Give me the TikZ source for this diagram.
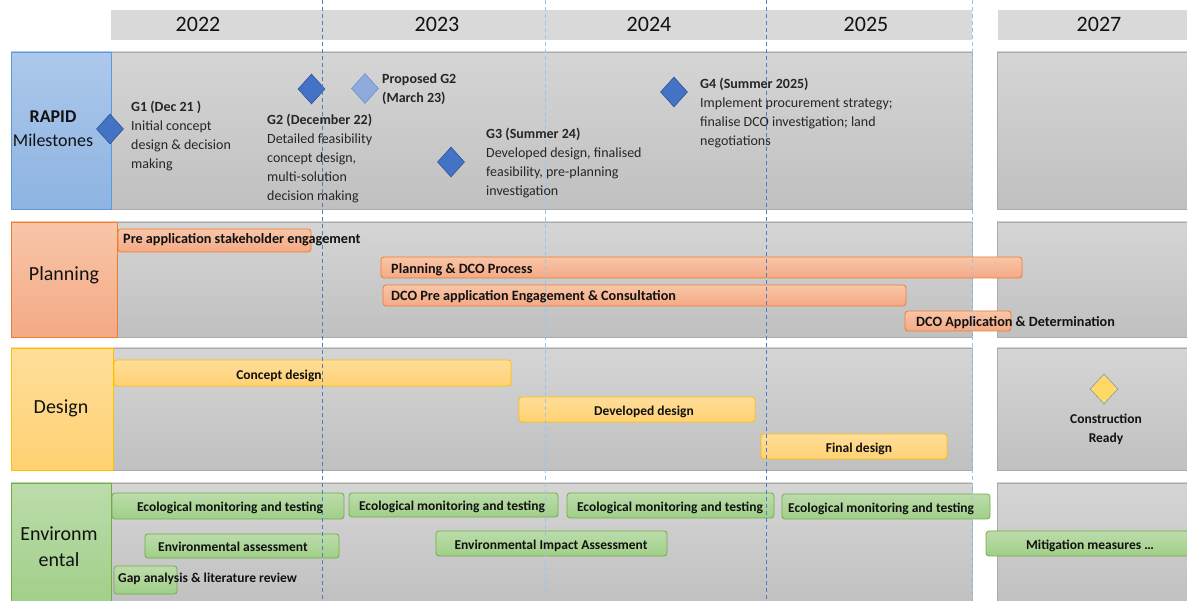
\documentclass[tikz,border=0pt]{standalone}
\usepackage{fontspec}
\setmainfont{Carlito}
\usetikzlibrary{shapes.geometric}
\definecolor{headG}{HTML}{D9D9D9}
\definecolor{panT}{HTML}{D5D5D5}
\definecolor{panB}{HTML}{C0C0C0}
\definecolor{panE}{HTML}{AAAAAA}
\definecolor{txtA}{HTML}{111111}
\definecolor{txtB}{HTML}{262626}
\definecolor{blT}{HTML}{ADC8EB}
\definecolor{blB}{HTML}{8DB4E2}
\definecolor{blE}{HTML}{5B9BD5}
\definecolor{orT}{HTML}{F8C6A8}
\definecolor{orB}{HTML}{F4A985}
\definecolor{orE}{HTML}{ED7D31}
\definecolor{yeT}{HTML}{FFDE9A}
\definecolor{yeB}{HTML}{FFD172}
\definecolor{yeE}{HTML}{FFC000}
\definecolor{grT}{HTML}{BCDCAB}
\definecolor{grB}{HTML}{A0CF88}
\definecolor{grE}{HTML}{70AD47}
\definecolor{msBlue}{HTML}{4472C4}
\definecolor{msEdge}{HTML}{2F5597}
\definecolor{prBlue}{HTML}{8FAADC}
\definecolor{prEdge}{HTML}{6D8FCB}
\definecolor{cdYel}{HTML}{FFD966}
\definecolor{cdEdge}{HTML}{8497B0}
\definecolor{vlDark}{HTML}{4A7CCB}
\definecolor{vlLight}{HTML}{9DC3E6}
\newcommand\tlbox[6]{\node[#1, minimum width={(#5-#3)*1pt}, minimum height={(#6-#4)*1pt}] (#2) at ({(#3+#5)/2},{(#4+#6)/2}) {};}
\begin{document}
\begin{tikzpicture}[x=1pt,y=-1pt,
  boxbase/.style={rectangle, inner sep=0pt, outer sep=0pt},
  headbox/.style={boxbase, fill=headG},
  panel/.style={boxbase, top color=panT, bottom color=panB, draw=panE, line width=0.5pt},
  lblue/.style={boxbase, top color=blT, bottom color=blB, draw=blE, line width=0.8pt},
  lorange/.style={boxbase, top color=orT, bottom color=orB, draw=orE, line width=0.8pt},
  lyellow/.style={boxbase, top color=yeT, bottom color=yeB, draw=yeE, line width=0.8pt},
  lgreen/.style={boxbase, top color=grT, bottom color=grB, draw=grE, line width=0.8pt},
  obar/.style={lorange, rounded corners=3pt},
  ybar/.style={lyellow, rounded corners=3pt},
  gbar/.style={lgreen, rounded corners=3pt},
  msd/.style={diamond, inner sep=0pt, minimum width=27pt, minimum height=30pt, fill=msBlue, draw=msEdge, line width=0.6pt},
  prd/.style={msd, fill=prBlue, draw=prEdge},
  cdd/.style={msd, fill=cdYel, draw=cdEdge, minimum width=28pt},
  bt/.style={font=\fontsize{13.5}{16}\selectfont\bfseries, text=txtA, inner sep=0pt},
  pt/.style={bt, font=\fontsize{14.2}{16}\selectfont\bfseries},
  mt/.style={font=\fontsize{14}{19}\selectfont, align=left, inner sep=0pt, text=txtB},
  yeartxt/.style={font=\fontsize{22}{26}\selectfont, inner sep=0pt, text=txtA},
  rowlab/.style={font=\fontsize{20}{26}\selectfont, align=center, inner sep=0pt, text=txtA},
  vline/.style={dash pattern=on 4pt off 3pt, line width=0.9pt}
]
\useasboundingbox (0,0) rectangle (1187,601);
\clip (0,0) rectangle (1187,601);
% headers
\tlbox{headbox}{h1}{111}{10}{972}{40}
\tlbox{headbox}{h2}{998}{10}{1192}{40}
% panels
\tlbox{panel}{p1a}{111}{52}{972}{209}
\tlbox{panel}{p1b}{997}{52}{1192}{209}
\tlbox{panel}{p2a}{117}{222}{972}{337}
\tlbox{panel}{p2b}{997}{222}{1192}{337}
\tlbox{panel}{p3a}{113}{348}{972}{470}
\tlbox{panel}{p3b}{997}{348}{1192}{470}
\tlbox{panel}{p4a}{111}{483}{972}{606}
\tlbox{panel}{p4b}{997}{483}{1192}{606}
% row labels
\tlbox{lblue}{L1}{11}{52}{111}{209}
\tlbox{lorange}{L2}{11}{222}{117}{337}
\tlbox{lyellow}{L3}{11}{348}{113}{470}
\tlbox{lgreen}{L4}{11}{483}{111}{606}
% planning bars
\tlbox{obar}{pb1}{118}{229}{311}{252}
\tlbox{obar}{pb2}{381}{257}{1022}{278}
\tlbox{obar}{pb3}{383}{285}{906}{306}
\tlbox{obar}{pb4}{905}{311}{1011}{331}
% design bars
\tlbox{ybar}{yb1}{114}{360}{511}{386}
\tlbox{ybar}{yb2}{519}{397}{755}{422}
\tlbox{ybar}{yb3}{761}{434}{947}{459}
% environmental bars
\tlbox{gbar}{gb1}{112}{493}{344}{519}
\tlbox{gbar}{gb2}{349}{493}{558}{517}
\tlbox{gbar}{gb3}{567}{493}{774}{518}
\tlbox{gbar}{gb4}{782}{494}{990}{519}
\tlbox{gbar}{gb5}{145}{534}{339}{558}
\tlbox{gbar}{gb6}{436}{531}{667}{556}
\tlbox{gbar}{gb7}{114}{566}{177}{594}
\tlbox{gbar}{gb8}{986}{531}{1196}{556}
% milestone diamonds
\node[msd] (g1d) at (110,129) {};
\node[msd] (g2d) at (311.5,89) {};
\node[prd] (pg2d) at (365,88.5) {};
\node[msd] (g3d) at (451,162) {};
\node[msd] (g4d) at (674,92) {};
\node[cdd] (crd) at (1104,389) {};
% dashed year lines
\coordinate (v1t) at (322,0);   \coordinate (v1b) at (322,601);
\coordinate (v2t) at (545,0);   \coordinate (v2b) at (545,601);
\coordinate (v3t) at (766,0);   \coordinate (v3b) at (766,601);
\coordinate (v4t) at (972,0);   \coordinate (v4b) at (972,601);
\draw[vline, vlDark] (v1t) -- (v1b);
\draw[vline, vlLight] (v2t) -- (v2b);
\draw[vline, vlDark] (v3t) -- (v3b);
\draw[vline, vlLight] (v4t) -- (v4b);
% years
\node[yeartxt, anchor=base] (y22) at (198,32) {2022};
\node[yeartxt, anchor=base] (y23) at (437,32) {2023};
\node[yeartxt, anchor=base] (y24) at (649,32) {2024};
\node[yeartxt, anchor=base] (y25) at (866,32) {2025};
\node[yeartxt, anchor=base] (y27) at (1099,32) {2027};
% row label texts (base anchor = last line)
\node[font=\fontsize{18}{24}\selectfont, align=center, inner sep=0pt, text=txtA, anchor=base] (l1t) at (53,147) {\textbf{RAPID}\\Milestones};
\node[rowlab, anchor=base] (l2t) at (64,281) {Planning};
\node[rowlab, anchor=base] (l3t) at (61,414) {Design};
\node[rowlab, anchor=base] (l4t) at (59,566) {Environm\\ental};
% milestone texts (base anchor = last line)
\node[mt, anchor=base west] (g1t) at (131,169) {\textbf{G1 (Dec 21 )}\\Initial concept\\design \& decision\\making};
\node[mt, anchor=base west] (g2t) at (267,201) {\textbf{G2 (December 22)}\\Detailed feasibility\\concept design,\\multi-solution\\decision making};
\node[mt, anchor=base west, font=\fontsize{14}{19}\selectfont\bfseries] (pg2t) at (382,103) {Proposed G2\\(March 23)};
\node[mt, anchor=base west] (g3t) at (486,196) {\textbf{G3 (Summer 24)}\\Developed design, finalised\\feasibility, pre-planning\\investigation};
\node[mt, anchor=base west] (g4t) at (700,146) {\textbf{G4 (Summer 2025)}\\Implement procurement strategy;\\finalise DCO investigation; land\\negotiations};
% planning texts
\node[pt, anchor=base west] (pb1t) at (123,244) {Pre application stakeholder engagement};
\node[pt, anchor=base west] (pb2t) at (391,274) {Planning \& DCO Process};
\node[pt, anchor=base west] (pb3t) at (391,300.5) {DCO Pre application Engagement \& Consultation};
\node[pt, anchor=base west] (pb4t) at (916,327) {DCO Application \& Determination};
% design texts
\node[bt, anchor=base] (yb1t) at (279,380) {Concept design};
\node[bt, anchor=base] (yb2t) at (644,416) {Developed design};
\node[bt, anchor=base] (yb3t) at (859,452.5) {Final design};
\node[bt, anchor=base, align=center, font=\fontsize{13.5}{19}\selectfont\bfseries] (crt) at (1106,443) {Construction\\Ready};
% environmental texts
\node[bt, anchor=base] (gb1t) at (230,512) {Ecological monitoring and testing};
\node[bt, anchor=base] (gb2t) at (452,511) {Ecological monitoring and testing};
\node[bt, anchor=base] (gb3t) at (670,512) {Ecological monitoring and testing};
\node[bt, anchor=base west] (gb4t) at (788,513) {Ecological monitoring and testing};
\node[bt, anchor=base] (gb5t) at (233,551.5) {Environmental assessment};
\node[bt, anchor=base] (gb6t) at (551,549.5) {Environmental Impact Assessment};
\node[bt, anchor=base west] (gb7t) at (118,583) {Gap analysis \& literature review};
\node[bt, anchor=base] (gb8t) at (1090,549.5) {Mitigation measures …};
\end{tikzpicture}
\end{document}
